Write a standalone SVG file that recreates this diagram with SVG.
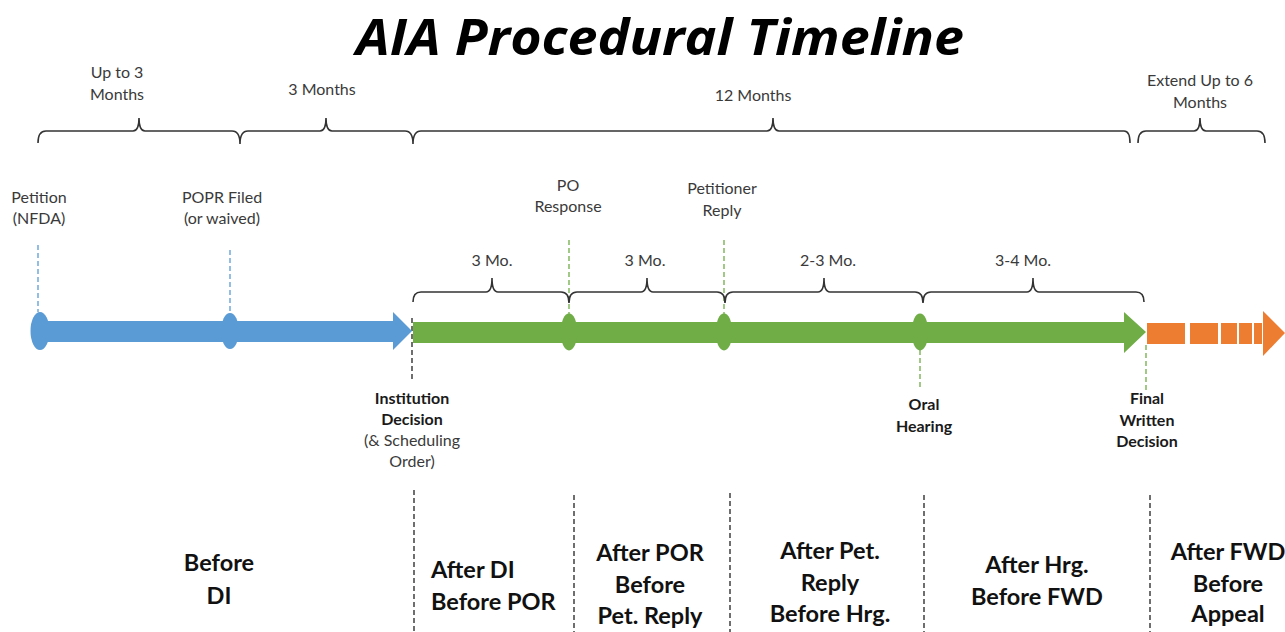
<svg xmlns="http://www.w3.org/2000/svg" width="1285" height="632" viewBox="0 0 1285 632">
<style>
.t{font-family:Lato,"Open Sans","Liberation Sans",sans-serif;font-size:16px;fill:#3a3a3a;text-anchor:middle}
.b{font-family:Lato,"Open Sans","Liberation Sans",sans-serif;font-size:16px;font-weight:bold;fill:#1a1a1a;text-anchor:middle}
.big{font-family:Lato,"Open Sans","Liberation Sans",sans-serif;font-size:23.5px;font-weight:bold;fill:#111;text-anchor:middle}
.brace{fill:none;stroke:#333;stroke-width:1.6}
.bd{stroke:#5b9bd5;stroke-width:1.3;stroke-dasharray:5,3}
.gd{stroke:#70ad47;stroke-width:1.3;stroke-dasharray:5,3}
.kd{stroke:#222;stroke-width:1.3;stroke-dasharray:5,3}
</style>
<rect width="1285" height="632" fill="#fff"/>
<text x="660" y="55" font-family="'Open Sans',Lato,sans-serif" font-size="50" font-weight="bold" font-style="italic" fill="#000" text-anchor="middle" textLength="608" lengthAdjust="spacingAndGlyphs">AIA Procedural Timeline</text>

<g id="top-braces">
<path class="brace" d="M38,143 Q38,131 46,131 L133,131 Q139,131 139,118 Q139,131 145,131 L232,131 Q240,131 240,144 Q240,131 248,131 L320,131 Q326,131 326,118 Q326,131 332,131 L405,131 Q413,131 413,144 Q413,131 421,131 L767,131 Q773,131 773,118 Q773,131 779,131 L1124,131 Q1130,131 1130,143"/>
<path class="brace" d="M1138,143 Q1138,131 1146,131 L1194,131 Q1200,131 1200,118 Q1200,131 1206,131 L1257,131 Q1265,131 1265,143"/>
<text class="t" x="117" y="78">Up to 3</text>
<text class="t" x="117" y="100">Months</text>
<text class="t" x="322" y="95">3 Months</text>
<text class="t" x="753" y="101">12 Months</text>
<text class="t" x="1200" y="86">Extend Up to 6</text>
<text class="t" x="1200" y="108">Months</text>
</g>

<g id="connectors">
<line class="bd" x1="38" y1="245" x2="38" y2="312"/>
<line class="bd" x1="230" y1="250" x2="230" y2="312"/>
<line class="gd" x1="569" y1="240" x2="569" y2="315"/>
<line class="gd" x1="724" y1="240" x2="724" y2="315"/>
<line class="gd" x1="920" y1="350" x2="920" y2="390"/>
<line class="gd" x1="1146" y1="345" x2="1146" y2="390"/>
<line class="kd" x1="412" y1="318" x2="412" y2="382"/>
<line class="kd" x1="414" y1="490" x2="414" y2="632"/>
<line class="kd" x1="574" y1="495" x2="574" y2="632"/>
<line class="kd" x1="730" y1="493" x2="730" y2="632"/>
<line class="kd" x1="924" y1="495" x2="924" y2="632"/>
<line class="kd" x1="1150" y1="495" x2="1150" y2="632"/>
</g>

<g id="blue-arrow">
<path d="M40,321 L393,321 L393,312 L412,331 L393,350 L393,342 L40,342 Z" fill="#5b9bd5"/>
<ellipse cx="40" cy="331" rx="9.5" ry="19" fill="#5b9bd5"/>
<ellipse cx="230" cy="331" rx="9" ry="18" fill="#5b9bd5"/>
</g>

<g id="green-arrow">
<path d="M413,322 L1124,322 L1124,312 L1146,332 L1124,353 L1124,343 L413,343 Z" fill="#70ad47"/>
<ellipse cx="569" cy="332" rx="8.5" ry="18.5" fill="#70ad47"/>
<ellipse cx="724" cy="332" rx="8.5" ry="18.5" fill="#70ad47"/>
<ellipse cx="920" cy="332" rx="8.5" ry="18.5" fill="#70ad47"/>
</g>

<g id="orange-arrow" fill="#ed7d31">
<rect x="1147" y="323" width="38" height="21"/>
<rect x="1190" y="323" width="28" height="21"/>
<rect x="1221" y="323" width="16" height="21"/>
<rect x="1239" y="323" width="13" height="21"/>
<rect x="1254" y="323" width="8" height="21"/>
<path d="M1263,311 L1285,333 L1263,356 Z"/>
</g>

<g id="mid-braces">
<path class="brace" d="M413,302 Q413,292 421,292 L486,292 Q492,292 492,278 Q492,292 498,292 L561,292 Q569,292 569,303 Q569,292 577,292 L641,292 Q647,292 647,278 Q647,292 653,292 L717,292 Q725,292 725,303 Q725,292 733,292 L818,292 Q824,292 824,278 Q824,292 830,292 L915,292 Q923,292 923,303 Q923,292 931,292 L1027,292 Q1033,292 1033,278 Q1033,292 1039,292 L1136,292 Q1144,292 1144,302"/>
<text class="t" x="492" y="266">3 Mo.</text>
<text class="t" x="645" y="266">3 Mo.</text>
<text class="t" x="828" y="266">2-3 Mo.</text>
<text class="t" x="1023" y="266">3-4 Mo.</text>
</g>

<g id="node-petition"><text class="t" x="39" y="203">Petition</text><text class="t" x="39" y="224">(NFDA)</text></g>
<g id="node-popr"><text class="t" x="222" y="203">POPR Filed</text><text class="t" x="222" y="224">(or waived)</text></g>
<g id="node-po"><text class="t" x="568" y="191">PO</text><text class="t" x="568" y="212">Response</text></g>
<g id="node-reply"><text class="t" x="722" y="194">Petitioner</text><text class="t" x="722" y="216">Reply</text></g>
<g id="node-institution"><text class="b" x="412" y="404">Institution</text><text class="b" x="412" y="425">Decision</text><text class="t" x="412" y="446">(&amp; Scheduling</text><text class="t" x="412" y="467">Order)</text></g>
<g id="node-hearing"><text class="b" x="924" y="410">Oral</text><text class="b" x="924" y="432">Hearing</text></g>
<g id="node-fwd"><text class="b" x="1147" y="404">Final</text><text class="b" x="1147" y="426">Written</text><text class="b" x="1147" y="447">Decision</text></g>

<g id="phase-before-di"><text class="big" x="219" y="571">Before</text><text class="big" x="219" y="604">DI</text></g>
<g id="phase-after-di"><text class="big" x="431" y="578" style="text-anchor:start">After DI</text><text class="big" x="431" y="610" style="text-anchor:start">Before POR</text></g>
<g id="phase-after-por"><text class="big" x="650" y="561">After POR</text><text class="big" x="650" y="593">Before</text><text class="big" x="650" y="624">Pet. Reply</text></g>
<g id="phase-after-reply"><text class="big" x="830" y="559">After Pet.</text><text class="big" x="830" y="591">Reply</text><text class="big" x="830" y="622">Before Hrg.</text></g>
<g id="phase-after-hrg"><text class="big" x="1037" y="573">After Hrg.</text><text class="big" x="1037" y="605">Before FWD</text></g>
<g id="phase-after-fwd"><text class="big" x="1228" y="560">After FWD</text><text class="big" x="1228" y="592">Before</text><text class="big" x="1228" y="622">Appeal</text></g>
</svg>
